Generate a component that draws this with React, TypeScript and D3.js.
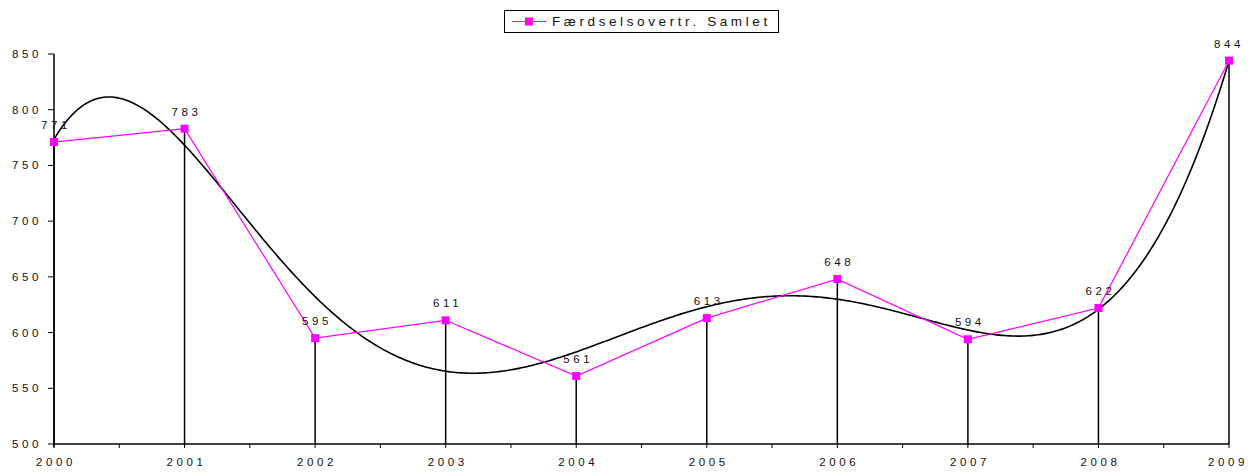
import React from 'react';
import * as d3 from 'd3';

const years = ['2000', '2001', '2002', '2003', '2004', '2005', '2006', '2007', '2008', '2009'];
const values = [771, 783, 595, 611, 561, 613, 648, 594, 622, 844];
const yTicks = [500, 550, 600, 650, 700, 750, 800, 850];
const seriesName = 'Færdselsovertr. Samlet';
const trendOrder = 6;

const W = 1249;
const H = 472;
const FONT = '"Liberation Sans", Arial, sans-serif';
const MAGENTA = '#FF00FF';

// least-squares polynomial fit (Excel-style polynomial trendline)
function polyFit(xs: number[], ys: number[], order: number): number[] {
  const n = order + 1;
  const A: number[][] = [];
  for (let r = 0; r < n; r++) {
    const row: number[] = [];
    for (let c = 0; c < n; c++) {
      row.push(d3.sum(xs, (x) => Math.pow(x, r + c)));
    }
    row.push(d3.sum(xs, (x, i) => Math.pow(x, r) * ys[i]));
    A.push(row);
  }
  for (let i = 0; i < n; i++) {
    let p = i;
    for (let k = i + 1; k < n; k++) if (Math.abs(A[k][i]) > Math.abs(A[p][i])) p = k;
    [A[i], A[p]] = [A[p], A[i]];
    for (let k = i + 1; k < n; k++) {
      const f = A[k][i] / A[i][i];
      for (let c = i; c <= n; c++) A[k][c] -= f * A[i][c];
    }
  }
  const coef = new Array(n).fill(0);
  for (let i = n - 1; i >= 0; i--) {
    let s = A[i][n];
    for (let c = i + 1; c < n; c++) s -= A[i][c] * coef[c];
    coef[i] = s / A[i][i];
  }
  return coef;
}

export default function App() {
  const x = d3.scaleLinear().domain([0, years.length - 1]).range([54, 1229]);
  const y = d3.scaleLinear().domain([500, 850]).range([444, 54]);

  const norm = (i: number) => (i - 4.5) / 4.5;
  const idx = years.map((_, i) => i);
  const coef = polyFit(idx.map(norm), values, trendOrder);
  const evalP = (t: number) => coef.reduce((s, c, k) => s + c * Math.pow(norm(t), k), 0);
  const samples = d3.range(0, 9.0001, 0.02);
  const trendPath = d3
    .line<number>()
    .x((t) => x(t))
    .y((t) => y(evalP(t)))(samples) as string;

  const seriesPath = d3
    .line<number>()
    .x((_, i) => x(i))
    .y((v) => y(v))(values) as string;

  const halfTicks = d3.range(0, 9.0001, 0.5);

  return (
    <svg width={W} height={H} style={{ position: 'absolute', left: 0, top: 0, background: '#fff' }} fontFamily={FONT}>
      <rect x={0} y={0} width={W} height={H} fill="#fff" />
      {/* Y axis */}
      <line x1={54} x2={54} y1={y(850)} y2={y(500) + 3} stroke="#000" strokeWidth={1.5} />
      {yTicks.map((t) => (
        <g key={t}>
          <line x1={48} x2={54} y1={y(t)} y2={y(t)} stroke="#000" strokeWidth={1} />
          <text x={42} y={y(t) + 4} textAnchor="end" fontSize={11.5} letterSpacing={3.6} fill="#111">
            {t}
          </text>
        </g>
      ))}
      {/* X axis */}
      <line x1={54} x2={1229} y1={y(500)} y2={y(500)} stroke="#000" strokeWidth={1.5} />
      {halfTicks.map((t) => (
        <line key={t} x1={x(t)} x2={x(t)} y1={y(500)} y2={y(500) + 4} stroke="#000" strokeWidth={1} />
      ))}
      {years.map((yr, i) => (
        <text key={yr} x={i === years.length - 1 ? x(i) - 1 : x(i) + 2} y={466} textAnchor="middle" fontSize={11.5} letterSpacing={3.6} fill="#111">
          {yr}
        </text>
      ))}
      {/* drop lines */}
      {values.map((v, i) => (
        <line key={i} x1={x(i)} x2={x(i)} y1={y(v)} y2={y(500)} stroke="#000" strokeWidth={1.5} />
      ))}
      {/* trendline */}
      <path d={trendPath} fill="none" stroke="#000" strokeWidth={1.6} />
      {/* series */}
      <path d={seriesPath} fill="none" stroke={MAGENTA} strokeWidth={1.2} />
      {values.map((v, i) => (
        <rect key={i} x={x(i) - 4} y={y(v) - 4} width={8} height={8} fill={MAGENTA} />
      ))}
      {values.map((v, i) => (
        <text key={i} x={i === values.length - 1 ? x(i) : x(i) + 2} y={y(v) - 13} textAnchor="middle" fontSize={11.5} letterSpacing={3.6} fill="#111">
          {v}
        </text>
      ))}
      {/* legend */}
      <rect x={504.5} y={10.5} width={274} height={22} fill="#fff" stroke="#000" strokeWidth={1} />
      <line x1={512} x2={546} y1={21.5} y2={21.5} stroke={MAGENTA} strokeWidth={1.2} />
      <rect x={525} y={17.5} width={8} height={8} fill={MAGENTA} />
      <text x={552} y={26} fontSize={13.5} letterSpacing={3.6} fill="#111">
        {seriesName}
      </text>
    </svg>
  );
}
